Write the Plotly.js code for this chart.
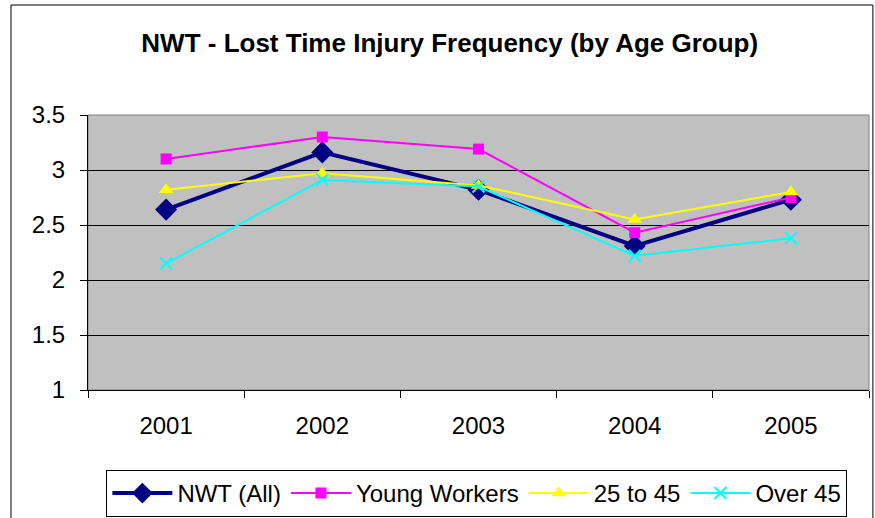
<!DOCTYPE html>
<html><head><meta charset="utf-8">
<script src="https://cdn.plot.ly/plotly-3.0.1.min.js"></script>
<style>html,body{margin:0;padding:0;background:#fff;}#chart{width:875px;height:518px;}</style>
</head><body><div id="chart"></div>
<script>
const years = ["2001", "2002", "2003", "2004", "2005"];
const nwtAll = [2.64, 3.16, 2.82, 2.31, 2.73];
const youngWorkers = [3.10, 3.30, 3.19, 2.43, 2.75];
const age25to45 = [2.82, 2.97, 2.86, 2.55, 2.80];
const over45 = [2.15, 2.91, 2.85, 2.22, 2.38];
const yTicks = [1, 1.5, 2, 2.5, 3, 3.5];

const font = "Liberation Sans, Arial, sans-serif";
const traces = [
  {x: years, y: nwtAll, name: "NWT (All)", mode: "lines+markers",
   line: {color: "#000080", width: 4}, marker: {symbol: "diamond", size: 17, color: "#000080"}},
  {x: years, y: youngWorkers, name: "Young Workers", mode: "lines+markers",
   line: {color: "#FF00FF", width: 2}, marker: {symbol: "square", size: 11, color: "#FF00FF"}},
  {x: years, y: age25to45, name: "25 to 45", mode: "lines+markers",
   line: {color: "#FFFF00", width: 2}, marker: {symbol: "triangle-up", size: 13, color: "#FFFF00"}},
  {x: years, y: over45, name: "Over 45", mode: "lines+markers",
   line: {color: "#00FFFF", width: 2}, marker: {symbol: "x-thin", size: 12, color: "#00FFFF", line: {color: "#00FFFF", width: 2}}}
];
const layout = {
  width: 875, height: 518,
  margin: {l: 88, r: 6, t: 115, b: 128},
  paper_bgcolor: "#fff", plot_bgcolor: "#C0C0C0",
  font: {family: font, color: "#000", size: 24},
  title: {text: "<b>NWT - Lost Time Injury Frequency (by Age Group)</b>", font: {size: 26, family: font},
          x: 0.514, xanchor: "center", y: 0.918, yanchor: "middle", automargin: false},
  xaxis: {type: "category", range: [-0.5, 4.5], showgrid: false, showline: true, linecolor: "#000", linewidth: 1,
          ticks: "outside", tickson: "boundaries", ticklen: 7, tickcolor: "#000", ticklabelstandoff: 14,
          tickfont: {size: 24}, zeroline: false, fixedrange: true, automargin: false},
  yaxis: {range: [1, 3.5], tickvals: yTicks, ticktext: yTicks.map(String), showgrid: true, gridcolor: "#000", gridwidth: 1,
          showline: true, linecolor: "#000", linewidth: 1, ticks: "outside", ticklen: 7, tickcolor: "#000",
          ticklabelstandoff: 10, tickfont: {size: 24}, zeroline: false, fixedrange: true, automargin: false},
  showlegend: true,
  legend: {orientation: "h", xref: "container", yref: "container", x: 0.545, xanchor: "center", y: 0.0927, yanchor: "top",
           bordercolor: "#000", borderwidth: 1, bgcolor: "#fff", font: {size: 24}, itemwidth: 60,
           tracegroupgap: 0},
  shapes: [
    {type: "rect", xref: "paper", yref: "paper", x0: 0, x1: 1, y0: 0, y1: 1,
     line: {color: "#808080", width: 1}, layer: "below"},
    {type: "rect", xref: "paper", yref: "paper", x0: -0.0986, x1: 1.005, y0: -0.6, y1: 1.4,
     line: {color: "#000", width: 1}, layer: "below"}
  ]
};
Plotly.newPlot("chart", traces, layout, {displayModeBar: false, staticPlot: true});
</script></body></html>
